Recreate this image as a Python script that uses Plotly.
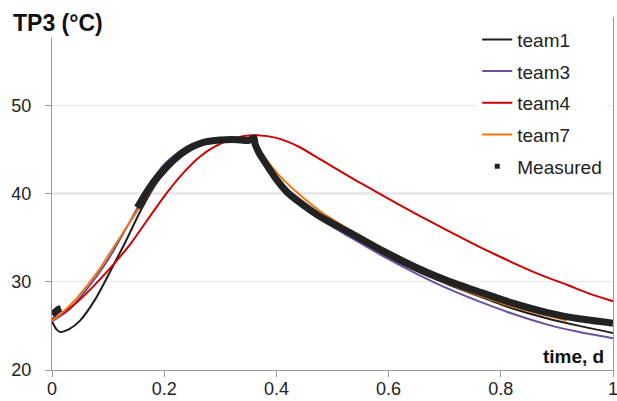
import plotly.graph_objects as go

# ---- data ----
t1_x = [0, 0.008, 0.015, 0.03, 0.05, 0.077, 0.10, 0.13, 0.16, 0.19, 0.22, 0.25, 0.28, 0.31, 0.34, 0.36,
        0.37, 0.38, 0.40, 0.43, 0.48, 0.53, 0.59, 0.65, 0.71, 0.76, 0.82, 0.88, 0.94, 1.0]
t1_y = [25.5, 24.6, 24.3, 24.6, 25.6, 28.0, 30.7, 34.4, 38.3, 41.5, 43.6, 45.0, 45.8, 46.1, 46.1, 45.9,
        44.6, 43.5, 41.6, 39.7, 37.2, 35.3, 33.1, 31.2, 29.6, 28.4, 27.0, 25.9, 25.0, 24.2]

t3_x = [0, 0.03, 0.06, 0.10, 0.13, 0.16, 0.175, 0.20, 0.23, 0.26, 0.29, 0.32, 0.35, 0.36,
        0.37, 0.38, 0.40, 0.43, 0.48, 0.53, 0.59, 0.65, 0.71, 0.76, 0.82, 0.88, 0.94, 1.0]
t3_y = [25.5, 26.8, 29.0, 32.5, 35.8, 39.3, 41.2, 43.3, 44.9, 45.8, 46.2, 46.3, 46.2, 45.9,
        44.4, 43.3, 41.5, 39.5, 37.0, 35.1, 32.9, 30.9, 29.1, 27.8, 26.4, 25.2, 24.3, 23.6]

t4_x = [0, 0.02, 0.05, 0.08, 0.11, 0.14, 0.17, 0.205, 0.235, 0.264, 0.29, 0.313, 0.34, 0.366,
        0.40, 0.44, 0.48, 0.53, 0.586, 0.634, 0.675, 0.72, 0.77, 0.82, 0.87, 0.92, 0.96, 1.0]
t4_y = [25.8, 26.5, 28.0, 29.9, 32.0, 34.3, 37.0, 40.1, 42.4, 44.2, 45.3, 46.0, 46.5, 46.6,
        46.3, 45.3, 43.8, 41.9, 39.9, 38.2, 36.8, 35.3, 33.7, 32.2, 30.8, 29.6, 28.6, 27.8]

t7_x = [0, 0.02, 0.045, 0.08, 0.13, 0.16, 0.19, 0.22, 0.25, 0.28, 0.31, 0.34, 0.36,
        0.37, 0.38, 0.40, 0.43, 0.48, 0.53, 0.59, 0.65, 0.71, 0.76, 0.82, 0.88, 0.918]
t7_y = [25.6, 26.6, 28.2, 31.0, 35.9, 38.8, 41.6, 43.7, 45.1, 45.8, 46.1, 46.1, 45.8,
        44.9, 44.0, 42.4, 40.5, 37.9, 35.9, 33.5, 31.4, 29.7, 28.5, 27.2, 26.2, 25.6]

meas_x = [0, 0.006, 0.012, 0.016, None,
          0.152, 0.17, 0.19, 0.21, 0.23, 0.25, 0.27, 0.29, 0.31, 0.33, 0.35, 0.36,
          0.362, 0.37, 0.38, 0.40, 0.42, 0.45, 0.48, 0.53, 0.59, 0.65, 0.71,
          0.764, 0.82, 0.883, 0.94, 1.0]
meas_y = [26.3, 26.6, 26.9, 27.0, None,
          38.4, 40.3, 42.0, 43.4, 44.5, 45.3, 45.8, 46.0, 46.1, 46.1, 46.0, 46.3,
          45.6, 44.5, 43.5, 41.6, 40.1, 38.6, 37.3, 35.6, 33.5, 31.6, 30.0,
          28.8, 27.6, 26.5, 25.8, 25.3]

x_ticks = [0, 0.2, 0.4, 0.6, 0.8, 1.0]
x_labels = ["0", "0.2", "0.4", "0.6", "0.8", "1"]
y_ticks = [20, 30, 40, 50, 60]
y_labels = ["20", "30", "40", "50", ""]

FONT = "Liberation Sans, Arial, sans-serif"

fig = go.Figure()
series = [("team1", t1_x, t1_y, "#1e1e1e"),
          ("team3", t3_x, t3_y, "#6a519e"),
          ("team4", t4_x, t4_y, "#d00000"),
          ("team7", t7_x, t7_y, "#ee7614")]
for name, xs, ys, col in series:
    fig.add_trace(go.Scatter(x=xs, y=ys, mode="lines", name=name, legendgroup=name,
                             line=dict(color=col, width=2, shape="spline", smoothing=0.6)))

fig.add_trace(go.Scatter(x=meas_x, y=meas_y, mode="lines", name="Measured", legendgroup="Measured",
                         showlegend=False, connectgaps=False,
                         line=dict(color="#222222", width=7, shape="spline", smoothing=0.5)))
fig.add_trace(go.Scatter(x=[None], y=[None], mode="markers", name="Measured", legendgroup="Measured",
                         marker=dict(symbol="square", size=5, color="#222222")))

fig.add_shape(type="line", xref="paper", yref="y", x0=0, x1=1, y0=40, y1=40,
              line=dict(color="#b4b4b4", width=1.5), layer="below")

fig.add_annotation(text="<b>TP3 (°C)</b>", xref="paper", yref="paper",
                   x=-0.073, y=0.984, xanchor="left", yanchor="middle", showarrow=False,
                   font=dict(family=FONT, size=23, color="#111"), bgcolor="white")
fig.add_annotation(text="<b>time, d</b>", xref="x", yref="y", x=0.9875, y=21.5,
                   xanchor="right", yanchor="middle", showarrow=False,
                   font=dict(family=FONT, size=19, color="#111"))

fig.update_layout(
    width=617, height=401,
    margin=dict(l=52, r=4, t=17, b=31),
    paper_bgcolor="white", plot_bgcolor="white",
    font=dict(family=FONT, size=18, color="#222"),
    showlegend=True,
    legend=dict(x=0.758, y=0.99, xanchor="left", yanchor="top",
                bgcolor="white", borderwidth=0, tracegroupgap=4,
                font=dict(family=FONT, size=19, color="#222")),
    xaxis=dict(range=[0, 1], tickvals=x_ticks, ticktext=x_labels, showgrid=False,
               showline=True, linecolor="#999", linewidth=1, ticks="outside", ticklen=6,
               tickcolor="#999", zeroline=False, automargin=False,
               ticklabeloverflow="allow", ticklabelstandoff=-4),
    yaxis=dict(range=[20, 60], tickvals=y_ticks, ticktext=y_labels, showgrid=True,
               gridcolor="#e6e6e6", gridwidth=1, showline=True, linecolor="#999",
               linewidth=1, mirror=True, ticks="outside", ticklen=6, tickcolor="#999",
               zeroline=False, ticklabelstandoff=10, automargin=False),
)

fig.write_html("out.html")
